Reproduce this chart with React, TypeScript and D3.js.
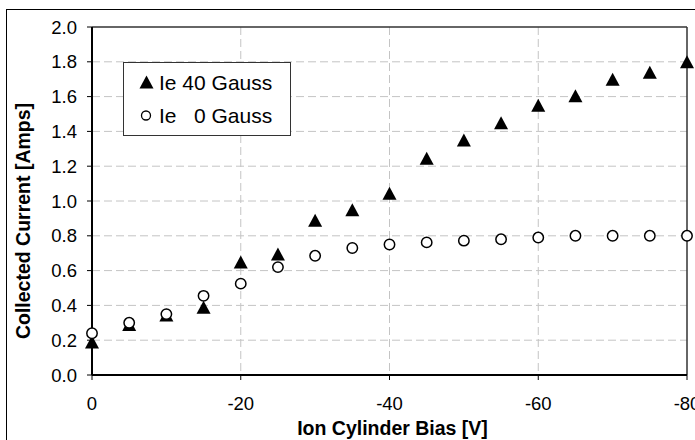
import React from "react";
import * as d3 from "d3";

const biasV: number[] = [0, -5, -10, -15, -20, -25, -30, -35, -40, -45, -50, -55, -60, -65, -70, -75, -80];
const ie40Gauss: number[] = [0.19, 0.29, 0.345, 0.39, 0.65, 0.695, 0.89, 0.95, 1.045, 1.245, 1.35, 1.45, 1.55, 1.605, 1.70, 1.74, 1.80];
const ie0Gauss: number[] = [0.24, 0.30, 0.35, 0.455, 0.525, 0.62, 0.685, 0.73, 0.75, 0.762, 0.772, 0.78, 0.79, 0.80, 0.80, 0.80, 0.80];
const xTicks: number[] = [0, -20, -40, -60, -80];
const yTicks: number[] = [0, 0.2, 0.4, 0.6, 0.8, 1.0, 1.2, 1.4, 1.6, 1.8, 2.0];
const seriesNames: string[] = ["Ie 40 Gauss", "Ie\u00a0\u00a0\u00a00 Gauss"];
const xTitle = "Ion Cylinder Bias [V]";
const yTitle = "Collected Current [Amps]";

const W = 695;
const H = 440;
const left = 92;
const right = 687;
const top = 27;
const bottom = 375;
const font = "'Liberation Sans', Arial, sans-serif";

function trianglePath(cx: number, cy: number, w: number, h: number) {
  return `M${cx},${cy - h / 2}L${cx + w / 2},${cy + h / 2}L${cx - w / 2},${cy + h / 2}Z`;
}

export default function App() {
  const x = d3.scaleLinear().domain([0, -80]).range([left, right]);
  const y = d3.scaleLinear().domain([0, 2]).range([bottom, top]);

  return (
    <svg width={W} height={H} style={{ position: "absolute", left: 0, top: 0, background: "#fff" }}>
      <rect x={0} y={0} width={W} height={H} fill="#fff" />
      {/* outer chart border */}
      <rect x={6.5} y={9.5} width={720} height={460} fill="none" stroke="#000" strokeWidth={1} />
      {/* grid */}
      {yTicks.filter((v) => v > 0 && v < 2).map((v) => (
        <line key={"gy" + v} x1={left} x2={right} y1={y(v)} y2={y(v)} stroke="#c4c4c4" strokeWidth={1} strokeDasharray="8,4" />
      ))}
      {xTicks.filter((v) => v !== 0 && v !== -80).map((v) => (
        <line key={"gx" + v} x1={x(v)} x2={x(v)} y1={top} y2={bottom} stroke="#c4c4c4" strokeWidth={1} strokeDasharray="8,4" />
      ))}
      {/* plot border top/right */}
      <line x1={left} x2={right} y1={top} y2={top} stroke="#333" strokeWidth={1.5} />
      <line x1={right} x2={right} y1={top} y2={bottom} stroke="#333" strokeWidth={1.5} />
      {/* axes */}
      <line x1={left} x2={left} y1={top} y2={bottom} stroke="#000" strokeWidth={2} />
      <line x1={left} x2={right} y1={bottom} y2={bottom} stroke="#000" strokeWidth={2} />
      {yTicks.map((v) => (
        <g key={"yt" + v}>
          <line x1={left - 5} x2={left} y1={y(v)} y2={y(v)} stroke="#000" strokeWidth={1} />
          <text x={77} y={y(v)} dy="0.36em" textAnchor="end" fontFamily={font} fontSize={18.5} fill="#000">
            {v.toFixed(1)}
          </text>
        </g>
      ))}
      {xTicks.map((v) => (
        <g key={"xt" + v}>
          <line x1={x(v)} x2={x(v)} y1={bottom} y2={bottom + 5} stroke="#000" strokeWidth={1} />
          <text x={x(v)} y={409.5} textAnchor="middle" fontFamily={font} fontSize={18.5} fill="#000">
            {v === 0 ? "0" : String(v)}
          </text>
        </g>
      ))}
      <text x={(left + right) / 2 + 3} y={435} textAnchor="middle" fontFamily={font} fontSize={19.5} fontWeight="bold" fill="#000">
        {xTitle}
      </text>
      <text transform={`translate(30,${221}) rotate(-90)`} textAnchor="middle" fontFamily={font} fontSize={19.5} fontWeight="bold" fill="#000">
        {yTitle}
      </text>
      {/* series */}
      {biasV.map((b, i) => (
        <path key={"t" + i} d={trianglePath(x(b), y(ie40Gauss[i]), 14, 13)} fill="#000" />
      ))}
      {biasV.map((b, i) => (
        <circle key={"c" + i} cx={x(b)} cy={y(ie0Gauss[i])} r={5.2} fill="#fff" stroke="#000" strokeWidth={1.5} />
      ))}
      {/* legend */}
      <rect x={123.5} y={62.5} width={167} height={73} fill="#fff" stroke="#333" strokeWidth={1} />
      <path d={trianglePath(146.5, 82, 14, 13)} fill="#000" />
      <text x={159} y={82} dy="0.36em" fontFamily={font} fontSize={21} fill="#000">
        {seriesNames[0]}
      </text>
      <circle cx={146} cy={115.5} r={4.5} fill="#fff" stroke="#000" strokeWidth={1.3} />
      <text x={159} y={115.5} dy="0.36em" fontFamily={font} fontSize={21} fill="#000">
        {seriesNames[1]}
      </text>
    </svg>
  );
}
